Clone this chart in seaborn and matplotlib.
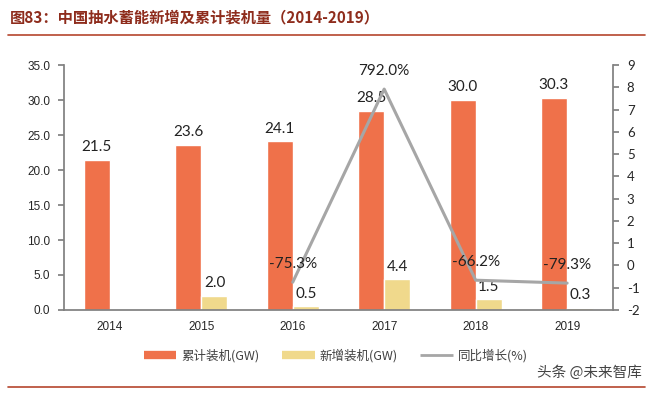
import pandas as pd
import matplotlib.pyplot as plt
import seaborn as sns
from matplotlib.lines import Line2D

years = ['2014', '2015', '2016', '2017', '2018', '2019']
total_gw = [21.5, 23.6, 24.1, 28.5, 30.0, 30.3]
new_gw = [0.0, 2.0, 0.5, 4.4, 1.5, 0.3]
growth_years = ['2016', '2017', '2018', '2019']
growth = [-0.753, 7.92, -0.662, -0.793]

series_names = ['累计装机(GW)', '新增装机(GW)', '同比增长(%)']
orange = '#EF714A'
yellow = '#F0D98C'
grey = '#A6A6A6'
title_red = '#8E2C1C'

sns.set_theme(style='white')
plt.rcParams['font.family'] = ['Noto Sans CJK SC', 'DejaVu Sans']

df = pd.DataFrame({
    'year': years * 2,
    'value': total_gw + new_gw,
    'series': [series_names[0]] * len(years) + [series_names[1]] * len(years),
})

fig = plt.figure(figsize=(6.52, 3.95), dpi=100)
ax = fig.add_axes([0.0982, 0.2152, 0.8418, 0.6202])
sns.barplot(data=df, x='year', y='value', hue='series', order=years,
            hue_order=series_names[:2], palette=[orange, yellow],
            width=0.57, saturation=1, legend=False, ax=ax)

ax.set_ylim(0, 35)
ax.set_yticks(range(0, 36, 5))
ax.set_yticklabels([f'{v:.1f}' for v in range(0, 36, 5)], family='Liberation Sans', fontsize=8.5)
ax.set_xlim(-0.5, len(years) - 0.5)
ax.set_xticks(range(len(years)))
ax.set_xticklabels(years, family='Liberation Sans', fontsize=8.5)
ax.set_xticks([i + 0.5 for i in range(len(years) - 1)], minor=True)
ax.tick_params(axis='x', which='major', length=0, pad=8)
ax.tick_params(axis='x', which='minor', direction='in', length=4, color='#808080')
ax.tick_params(axis='y', direction='out', length=4, color='#808080', left=True, pad=6)
ax.set_xlabel('')
ax.set_ylabel('')
for side in ['left', 'bottom']:
    ax.spines[side].set_color('#808080')
ax.spines['top'].set_visible(False)
ax.spines['right'].set_visible(False)

off = 0.145
label_font = dict(fontsize=11, color='#222222', family='Lato')
for i, v in enumerate(total_gw):
    ax.annotate(f'{v:.1f}', (i - off, v), xytext=(0, 4), textcoords='offset points',
                ha='center', va='bottom', **label_font)
for i, v in enumerate(new_gw):
    if v > 0:
        ax.annotate(f'{v:.1f}', (i + off, v), xytext=(0, 4), textcoords='offset points',
                    ha='center', va='bottom', **label_font)

ax2 = ax.twinx()
ax2.set_position(ax.get_position())
gdf = pd.DataFrame({'x': [years.index(y) for y in growth_years], 'g': growth})
sns.lineplot(data=gdf, x='x', y='g', color=grey, linewidth=2.2, ax=ax2)
ax2.set_ylim(-2, 9)
ax2.set_yticks(range(-2, 10))
ax2.set_yticklabels([str(v) for v in range(-2, 10)], family='Lato', fontsize=9.5)
ax2.tick_params(axis='y', direction='out', length=4, color='#808080', right=True, pad=6)
ax2.set_xlim(-0.5, len(years) - 0.5)
ax2.set_ylabel('')
ax2.set_xlabel('')
ax2.spines['right'].set_color('#808080')
for side in ['left', 'top', 'bottom']:
    ax2.spines[side].set_visible(False)
for x, g in zip(gdf['x'], growth):
    ax2.annotate(f'{g * 100:.1f}%', (x, g), xytext=(0, 8), textcoords='offset points',
                 ha='center', va='bottom', **label_font)

handles = [Line2D([], [], color=orange, linewidth=6, solid_capstyle='butt'),
           Line2D([], [], color=yellow, linewidth=6, solid_capstyle='butt'),
           Line2D([], [], color=grey, linewidth=2, solid_capstyle='butt')]
fig.legend(handles, series_names, loc='center', bbox_to_anchor=(0.515, 0.1), ncol=3,
           frameon=False, fontsize=9, handlelength=2.6, handletextpad=0.4,
           columnspacing=1.8, labelcolor='#404040')

fig.text(0.015, 0.955, '图83：中国抽水蓄能新增及累计装机量（2014-2019）', fontsize=11,
         fontweight='bold', color=title_red, va='center', ha='left')
fig.add_artist(Line2D([0.012, 0.99], [0.911, 0.911], color='#B5452E', linewidth=1.2))
fig.add_artist(Line2D([0.012, 0.99], [0.02, 0.02], color='#B5452E', linewidth=1.2))
fig.text(0.985, 0.058, '头条 @未来智库', fontsize=10.5, color='#444444', ha='right', va='center')

fig.savefig('out.png', dpi=100)
